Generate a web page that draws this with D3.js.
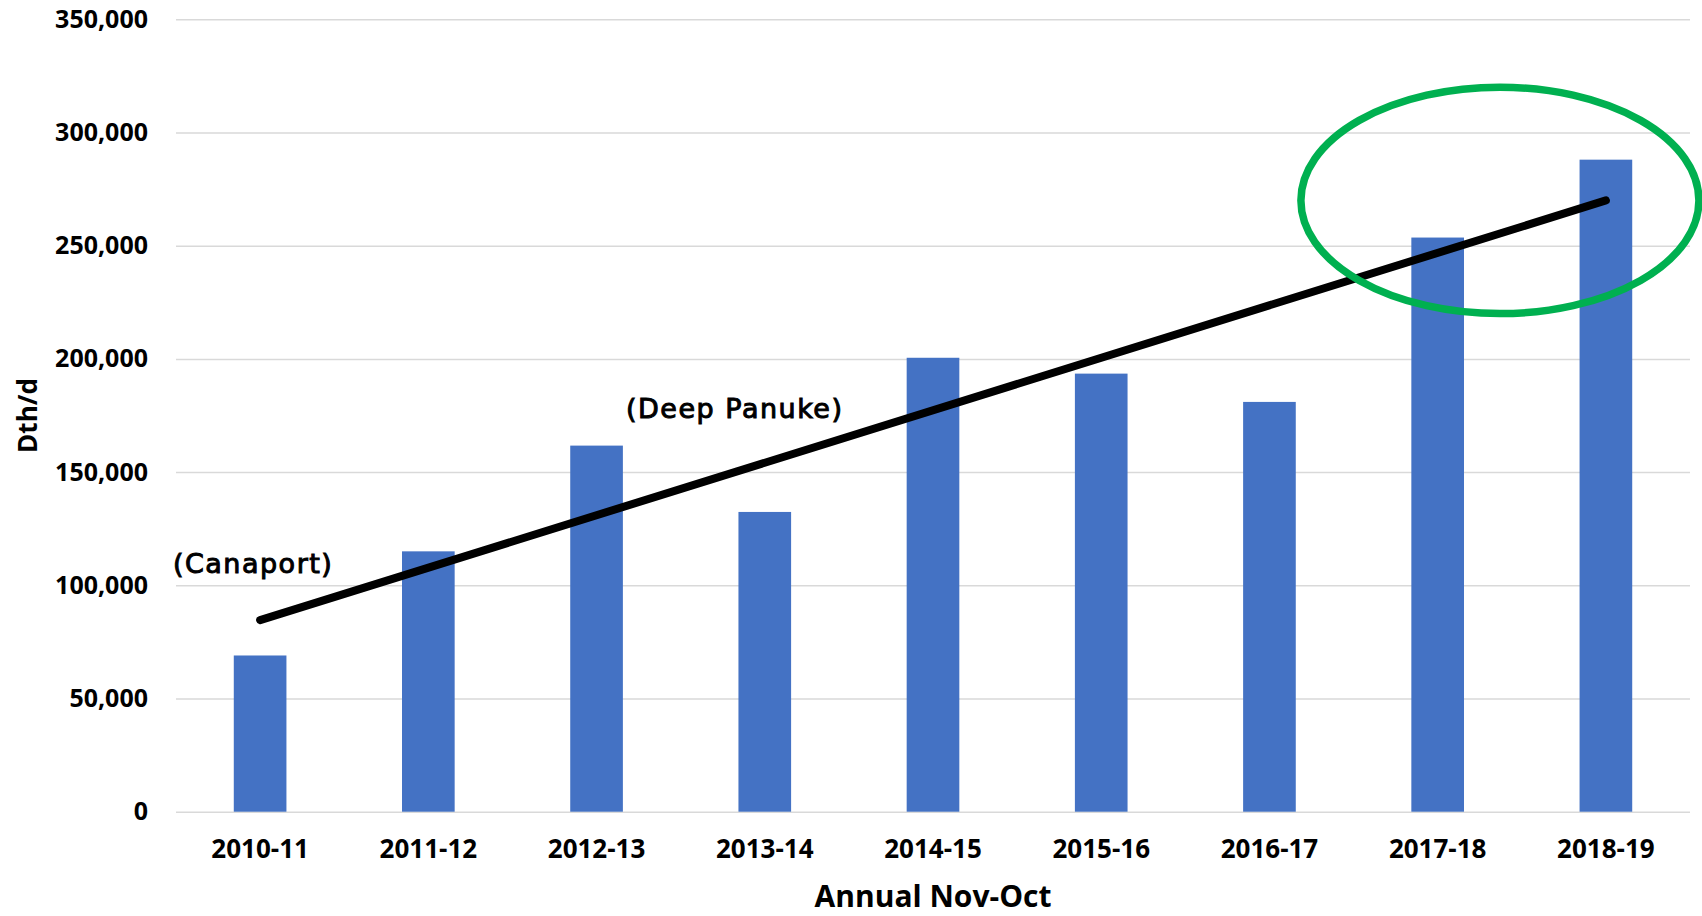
<!DOCTYPE html>
<html>
<head>
<meta charset="utf-8">
<script src="https://cdn.jsdelivr.net/npm/d3@7"></script>
<style>
  body { margin: 0; background: #fff; }
  .axis text { font-family: "Open Sans", sans-serif; font-weight: 700; fill: #000; }
  .axis path { display: none; }
  .grid line { stroke: #d9d9d9; stroke-width: 1.5; }
  .grid path { display: none; }
  .note { font-family: "DejaVu Sans", sans-serif; font-size: 27px; letter-spacing: 1.5px; fill: #000; stroke: #000; stroke-width: 1; }
</style>
</head>
<body>
<div id="chart"></div>
<script>
// seasons and average flows, Dth/d
var seasons = ["2010-11", "2011-12", "2012-13", "2013-14", "2014-15", "2015-16", "2016-17", "2017-18", "2018-19"];
var flows   = [69000, 115000, 161700, 132400, 200500, 193500, 181000, 253600, 288000];
var yTicks  = [0, 50000, 100000, 150000, 200000, 250000, 300000, 350000];

// linear trend, read at first and last season
var trendSeasons = ["2010-11", "2018-19"];
var trendValues  = [84600, 270000];

// annotations
var noteTexts   = ["(Canaport)", "(Deep Panuke)"];
var noteSeasons = ["2010-11", "2013-14"];
var noteValues  = [105300, 173800];

var margin = {top: 19.3, right: 12, bottom: 104.3, left: 176},
    W = 1702, H = 916,
    width = W - margin.left - margin.right,
    height = H - margin.top - margin.bottom;

var svg = d3.select("#chart").append("svg")
    .attr("width", W)
    .attr("height", H)
  .append("g")
    .attr("transform", "translate(" + margin.left + "," + margin.top + ")");

var x = d3.scaleBand()
    .domain(seasons)
    .range([0, width])
    .paddingInner(0.687)
    .paddingOuter(0.3435);

var y = d3.scaleLinear()
    .domain([0, 350000])
    .range([height, 0]);

var cx = function(s) { return x(s) + x.bandwidth() / 2; };

// gridlines
svg.append("g")
    .attr("class", "grid")
    .call(d3.axisLeft(y).tickValues(yTicks).tickFormat("").tickSize(-width).tickSizeOuter(0));

// y axis labels
svg.append("g")
    .attr("class", "axis")
    .call(d3.axisLeft(y).tickValues(yTicks).tickFormat(d3.format(",")).tickSize(0).tickPadding(28))
    .selectAll("text")
    .style("font-size", "25px");

// x axis labels
svg.append("g")
    .attr("class", "axis")
    .attr("transform", "translate(0," + height + ")")
    .call(d3.axisBottom(x).tickSize(0).tickPadding(28))
    .selectAll("text")
    .style("font-size", "26px");

// bars
svg.append("g").selectAll("rect")
    .data(seasons)
  .enter().append("rect")
    .attr("x", function(d) { return x(d); })
    .attr("y", function(d, i) { return y(flows[i]); })
    .attr("width", x.bandwidth())
    .attr("height", function(d, i) { return y(0) - y(flows[i]); })
    .attr("fill", "#4472C4");

// trend line
svg.append("path")
    .datum(trendSeasons)
    .attr("d", d3.line()
        .x(function(d) { return cx(d); })
        .y(function(d, i) { return y(trendValues[i]); }))
    .attr("fill", "none")
    .attr("stroke", "#000")
    .attr("stroke-width", 8)
    .attr("stroke-linecap", "round");

// green highlight round the last two seasons
svg.append("ellipse")
    .attr("cx", cx("2017-18") + 0.37 * x.step())
    .attr("cy", y(270000))
    .attr("rx", 1.183 * x.step())
    .attr("ry", y(0) - y(50000))
    .attr("fill", "none")
    .attr("stroke", "#00B050")
    .attr("stroke-width", 7.5);

// notes
svg.selectAll(".note")
    .data(noteTexts)
  .enter().append("text")
    .attr("class", "note")
    .attr("x", function(d, i) { return cx(noteSeasons[i]) + (i === 0 ? -7 : -30); })
    .attr("y", function(d, i) { return y(noteValues[i]); })
    .attr("text-anchor", "middle")
    .text(function(d) { return d; });

// axis titles
svg.append("text")
    .attr("transform", "translate(" + (37 - margin.left) + "," + (height / 2) + ") rotate(-90)")
    .attr("text-anchor", "middle")
    .style("font-family", "Open Sans, sans-serif")
    .style("font-weight", 700)
    .style("font-size", "26px")
    .text("Dth/d");

svg.append("text")
    .attr("x", width / 2)
    .attr("y", height + 95)
    .attr("text-anchor", "middle")
    .style("font-family", "Open Sans, sans-serif")
    .style("font-weight", 700)
    .style("font-size", "30px")
    .text("Annual Nov-Oct");
</script>
</body>
</html>
